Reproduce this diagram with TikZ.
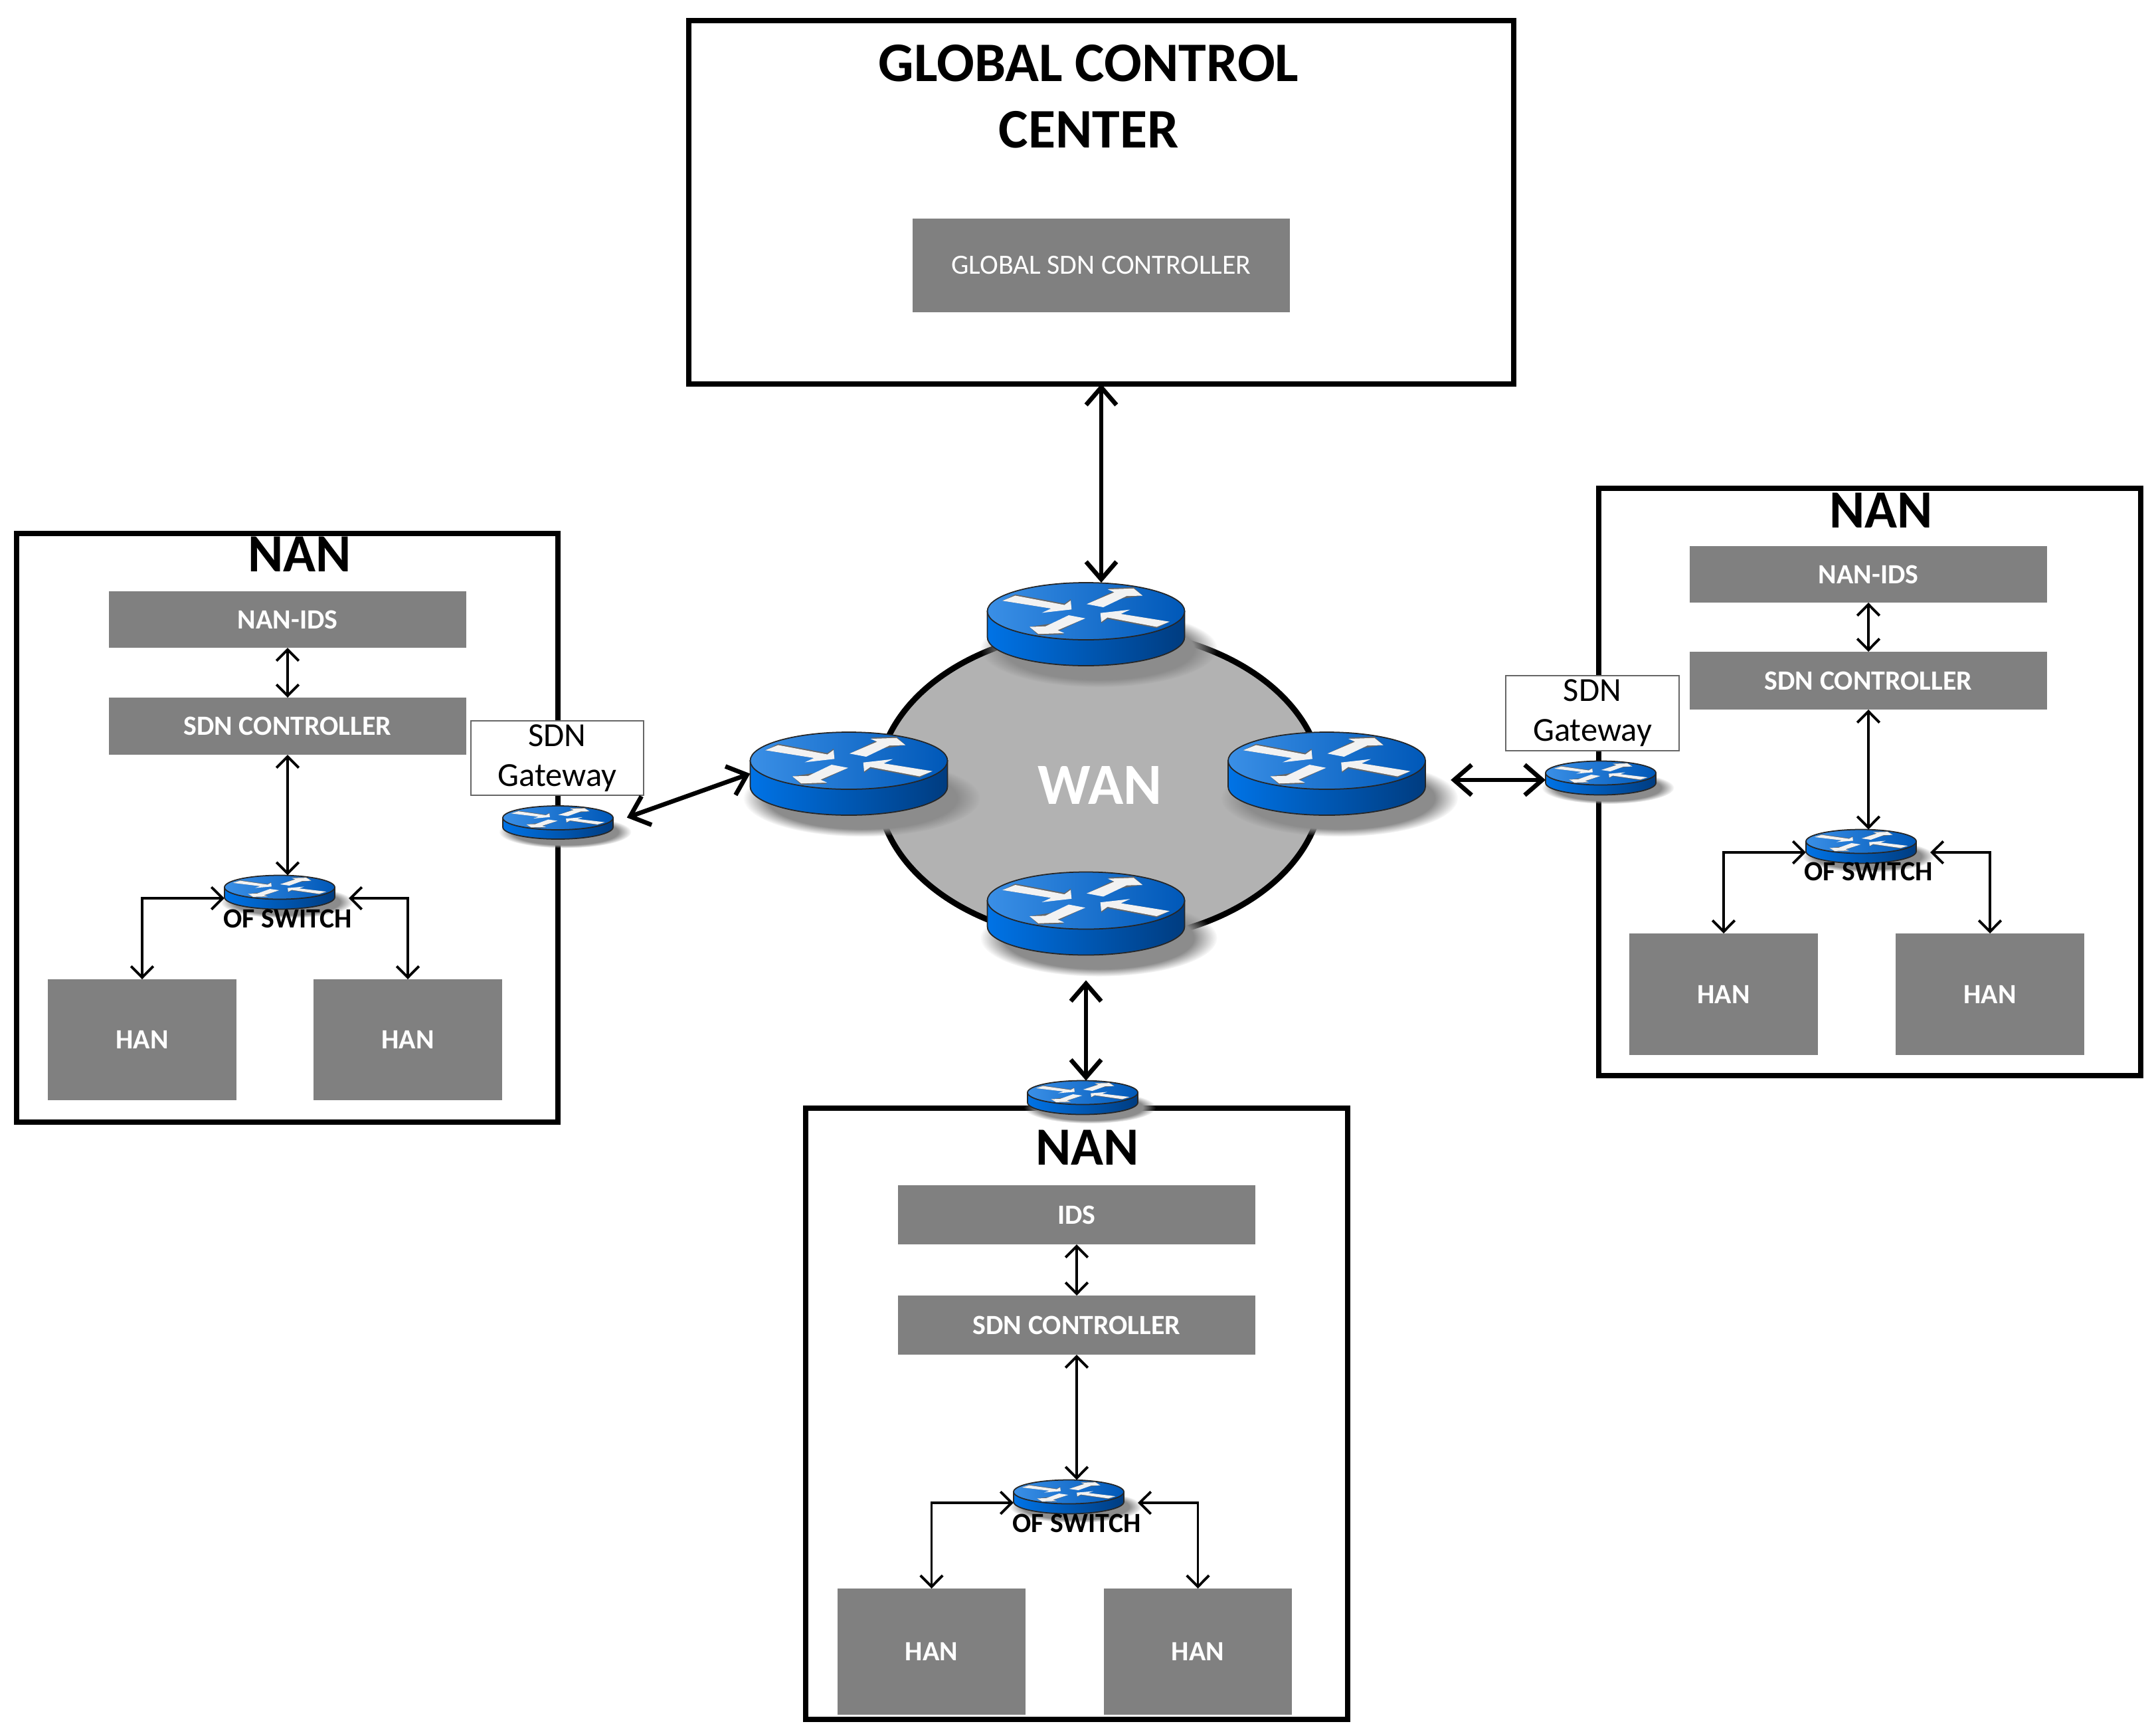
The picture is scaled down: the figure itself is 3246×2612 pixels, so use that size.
\documentclass[tikz,border=0pt]{standalone}
\usepackage{fontspec}
\setmainfont{Carlito}
\usepackage{xcolor}
\usepackage{tikz}
\usetikzlibrary{arrows.meta, fadings, shapes.geometric}

\definecolor{boxgray}{HTML}{808080}
\definecolor{wangray}{HTML}{B2B2B2}
\definecolor{disclight}{HTML}{3A8FE6}
\definecolor{discmid}{HTML}{0058B8}
\definecolor{sidelight}{HTML}{0073E6}
\definecolor{sidedark}{HTML}{003C80}

% name, centre, x radius, y radius, side height
\newcommand{\routerdisc}[5]{
    \node[routerspot, minimum width={#3*0.02cm}, minimum height={(2*#4+#5)*0.01cm}] (#1) at (#2) {};
    \begin{scope}[shift={(#2)}, x=0.01cm, y=0.01cm]
        \fill[black!45, path fading=circle with fuzzy edge 20 percent]
            ({#3*0.13},{-#5*0.5-#4*0.4}) ellipse [x radius={#3*1.2}, y radius={#4*1.35}];
        \shade[left color=sidelight, right color=sidedark, draw=black!85, line width=0.5pt]
            ({-#3},{#5*0.5}) -- ({-#3},{-#5*0.5})
            arc[start angle=180, end angle=360, x radius=#3, y radius=#4]
            -- ({#3},{#5*0.5}) -- cycle;
        \shade[left color=disclight, right color=discmid, draw=black!85, line width=0.5pt]
            (0,{#5*0.5}) ellipse [x radius=#3, y radius=#4];
        \begin{scope}[shift={(0,{#5*0.5})}, xscale=#3, yscale=#4]
            \foreach \r in {0,180} {
                \begin{scope}[rotate=\r, x=0.01cm, y=0.01cm]
                    \fill[black!60] (-.847,.367) -- (-.717,.59) -- (-.218,.265) -- (-.155,.42)
                        -- (-.146,.0625) -- (-.353,.094) -- cycle;
                    \fill[white!95!black] (-.847,.367) -- (-.717,.547) -- (-.218,.219) -- (-.155,.375)
                        -- (-.146,.0625) -- (-.447,-.055) -- (-.353,.094) -- cycle;
                    \fill[black!60] (.007,.25) -- (.288,.71) -- (.22,.81) -- (.483,.84)
                        -- (.573,.547) -- cycle;
                    \fill[white!95!black] (.007,.25) -- (.288,.664) -- (.22,.766) -- (.483,.797)
                        -- (.573,.547) -- (.411,.531) -- (.175,.14) -- cycle;
                \end{scope}
            }
        \end{scope}
    \end{scope}
}

\tikzset{
    routerspot/.style={inner sep=0pt, outer sep=0pt},
    pxsize/.style 2 args={minimum width={#1*0.01cm}, minimum height={#2*0.01cm}},
    outerbox/.style={draw=black, line width=2.5pt, inner sep=0pt, outer sep=0pt, anchor=north west},
    graybox/.style={fill=boxgray, text=white, inner sep=0pt, outer sep=0pt, anchor=north west,
        font=\fontsize{11.9}{14}\selectfont\bfseries},
    gatebox/.style={draw=black!60, fill=white, line width=0.5pt, inner sep=0pt, outer sep=0pt,
        anchor=north west, align=center, font=\fontsize{14.4}{17}\selectfont},
    nantitle/.style={font=\fontsize{23}{26}\selectfont\bfseries, inner sep=0pt},
    switchlabel/.style={font=\fontsize{11.9}{13}\selectfont\bfseries, inner sep=0pt},
    thinlink/.style={<->, line width=1.1pt},
    thicklink/.style={{Straight Barb[length=7.5pt, width=13pt]}-{Straight Barb[length=7.5pt, width=13pt]},
        line width=1.9pt, line cap=round}
}

\begin{document}
\begin{tikzpicture}[>={Straight Barb[length=4.8pt, width=9.5pt]}, x=0.01cm, y=-0.01cm]
    \useasboundingbox (0,0) rectangle (3246,2612);

    % 1. Global control center
    \node[outerbox, pxsize={1242}{547}] (gcc) at (1037,31) {};
    \node[align=center, inner sep=0pt, font=\fontsize{23.9}{28.3}\selectfont\bfseries] (gcctitle) at (1639,145)
        {GLOBAL CONTROL\\CENTER};
    \node[graybox, pxsize={568}{141}, font=\fontsize{11.9}{15}\selectfont] (globalsdn) at (1374,329)
        {GLOBAL SDN CONTROLLER};

    % 2. WAN ring
    \node[ellipse, draw=black, fill=wangray, line width=2.5pt, inner sep=0pt, pxsize={670}{468}, text=white,
        font=\fontsize{25}{30}\selectfont\bfseries] (wanring) at (1656,1182) {WAN};

    % 3. NAN on the left
    \node[outerbox, pxsize={815}{886}] (nanleft) at (25,803) {};
    \node[nantitle] (nanlefttitle) at (451,834) {NAN};
    \node[graybox, pxsize={538}{85}] (idsleft) at (164,890) {NAN-IDS};
    \node[graybox, pxsize={538}{86}] (sdnleft) at (164,1050) {SDN CONTROLLER};
    \node[graybox, pxsize={284}{182}] (hanlefta) at (72,1474) {HAN};
    \node[graybox, pxsize={284}{182}] (hanleftb) at (472,1474) {HAN};
    \routerdisc{switchleft}{421,1343}{83}{18}{15}
    \node[switchlabel] (oflabelleft) at (433,1383) {OF SWITCH};

    % 4. NAN on the right
    \node[outerbox, pxsize={816}{884}] (nanright) at (2407,735) {};
    \node[nantitle] (nanrighttitle) at (2832,768) {NAN};
    \node[graybox, pxsize={538}{85}] (idsright) at (2544,822) {NAN-IDS};
    \node[graybox, pxsize={538}{87}] (sdnright) at (2544,981) {SDN CONTROLLER};
    \node[graybox, pxsize={284}{183}] (hanrighta) at (2453,1405) {HAN};
    \node[graybox, pxsize={284}{183}] (hanrightb) at (2854,1405) {HAN};
    \routerdisc{switchright}{2802,1274}{83}{18}{15}
    \node[switchlabel] (oflabelright) at (2813,1312) {OF SWITCH};

    % 5. NAN at the bottom
    \node[outerbox, pxsize={816}{920}] (nanbot) at (1213,1668) {};
    \node[nantitle] (nanbottitle) at (1637,1727) {NAN};
    \node[graybox, pxsize={538}{89}] (idsbot) at (1352,1784) {IDS};
    \node[graybox, pxsize={538}{89}] (sdnbot) at (1352,1950) {SDN CONTROLLER};
    \node[graybox, pxsize={283}{190}] (hanbota) at (1261,2391) {HAN};
    \node[graybox, pxsize={283}{190}] (hanbotb) at (1662,2391) {HAN};
    \routerdisc{switchbot}{1609,2253}{83}{18}{15}
    \node[switchlabel] (oflabelbot) at (1621,2293) {OF SWITCH};

    % 6. SDN gateways
    \node[gatebox, pxsize={260}{112}] (gateboxleft) at (709,1085) {SDN\\Gateway};
    \node[gatebox, pxsize={261}{113}] (gateboxright) at (2267,1017) {SDN\\Gateway};
    \routerdisc{gateleft}{840,1238}{83}{18}{14}
    \routerdisc{gateright}{2410,1171}{83}{18}{15}
    \routerdisc{gatebot}{1630,1652}{83}{18}{15}

    % 7. WAN routers
    \routerdisc{wantop}{1635,939.5}{148.5}{43}{39}
    \routerdisc{wanleft}{1278,1164.5}{148.5}{43}{39}
    \routerdisc{wanright}{1997.5,1164.5}{148.5}{43}{39}
    \routerdisc{wanbot}{1635,1375}{148.5}{43}{39}

    % 8. Links between the networks
    \draw[thicklink] (gcc.south) -- (gcc.south |- wantop.north);
    \draw[thicklink, shorten <=0.38cm] (wanbot.south) -- (wanbot.south |- gatebot.north);
    \draw[thicklink, shorten <=0.22cm] (gateleft.east) -- (wanleft.west);
    \draw[thicklink, shorten <=0.38cm] ([yshift=-0.03cm]wanright.east |- gateright.west) -- ([yshift=-0.03cm]gateright.west);

    % 9. Links inside the left NAN
    \draw[thinlink] (idsleft.south) -- (sdnleft.north);
    \draw[thinlink] (sdnleft.south) -- (sdnleft.south |- switchleft.north);
    \draw[thinlink] ([yshift=-0.09cm]switchleft.west) -| (hanlefta.north);
    \draw[thinlink] ([xshift=0.21cm, yshift=-0.09cm]switchleft.east) -| (hanleftb.north);

    % 10. Links inside the right NAN
    \draw[thinlink] (idsright.south) -- (sdnright.north);
    \draw[thinlink] (sdnright.south) -- (sdnright.south |- switchright.north);
    \draw[thinlink] ([yshift=-0.09cm]switchright.west) -| (hanrighta.north);
    \draw[thinlink] ([xshift=0.21cm, yshift=-0.09cm]switchright.east) -| (hanrightb.north);

    % 11. Links inside the bottom NAN
    \draw[thinlink] (idsbot.south) -- (sdnbot.north);
    \draw[thinlink] (sdnbot.south) -- (sdnbot.south |- switchbot.north);
    \draw[thinlink] ([yshift=-0.09cm]switchbot.west) -| (hanbota.north);
    \draw[thinlink] ([xshift=0.21cm, yshift=-0.09cm]switchbot.east) -| (hanbotb.north);
\end{tikzpicture}
\end{document}
